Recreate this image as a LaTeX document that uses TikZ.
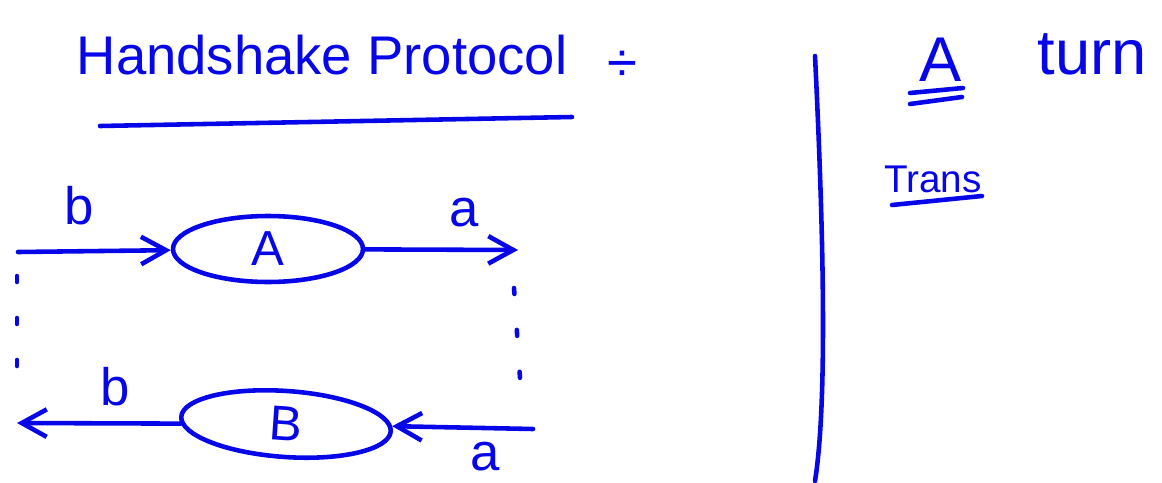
\documentclass[tikz,border=0pt]{standalone}
\usepackage{fontspec}
\setmainfont{Liberation Sans}
\usetikzlibrary{arrows.meta,shapes.geometric}

\definecolor{penblue}{RGB}{6,6,232}
\tikzset{
  ink/.style={draw=penblue, line width=2.6pt, line cap=round, line join=round},
  flow/.style={ink, -{Straight Barb[length=5mm, width=5.5mm]}},
  dots/.style={ink, dash pattern=on 0.12cm off 0.72cm},
  scrawl/.style={text=penblue, inner sep=0pt, font=\fontsize{#1}{#1}\selectfont},
  scrawl/.default=30,
  party/.style={ellipse, ink, inner sep=0pt, text=penblue,
    font=\fontsize{28}{28}\selectfont}
}

\begin{document}
\begin{tikzpicture}[x=0.02cm, y=-0.02cm]
        \useasboundingbox (0,0) rectangle (1162,483);
        % heading
        \node[scrawl=31] (head) at (322,55) {Handshake Protocol};
        \node[scrawl=31] (div) at (622,66) {÷};
        \coordinate (headL) at (100,126);
        \coordinate (headR) at (572,117);
        \draw[ink] (headL) -- (headR);

        % the two parties
        \node[party, minimum width=3.8cm, minimum height=1.32cm] (A) at (268,249) {A};
        \node[party, minimum width=4.2cm, minimum height=1.32cm, rotate=-4] (B) at (286,424) {B};

        \coordinate (bIn) at (18,252);
        \coordinate (aOut) at (518,250);
        \coordinate (aIn) at (533,429);
        \coordinate (bOut) at (17,423);
        \draw[flow] (bIn) -- node[scrawl, pos=0.4, yshift=0.92cm] (b1) {b} (A);
        \draw[flow] (A) -- node[scrawl, pos=0.645, yshift=0.74cm] (a1) {a} (aOut);
        \draw[flow] (aIn) -- node[scrawl, pos=0.34, yshift=-0.58cm] (a2) {a} (B);
        \draw[flow] (B) -- node[scrawl, pos=0.4, yshift=0.74cm] (b2) {b} (bOut);

        % dotted hand-over lines
        \coordinate (lTop) at (17,276);
        \coordinate (lBot) at (17,400);
        \coordinate (rTop) at (514,288);
        \coordinate (rBot) at (520,378);
        \draw[dots] (lTop) -- (lBot);
        \draw[dots] (rTop) -- (rBot);

        % divider
        \coordinate (divTop) at (815,56);
        \coordinate (divBot) at (815,481);
        \draw[ink] (divTop) .. controls (823,220) and (828,400) .. (divBot);

        % right side notes
        \node[scrawl=36] (who) at (941,60) {A};
        \node[scrawl=36] (turn) at (1092,54) {turn};
        \coordinate (u1L) at (910,93);
        \coordinate (u1R) at (963,88);
        \coordinate (u2L) at (910,104);
        \coordinate (u2R) at (962,97);
        \draw[ink] (u1L) -- (u1R);
        \draw[ink] (u2L) -- (u2R);
        \node[scrawl=22] (trans) at (933,179) {Trans};
        \coordinate (tL) at (892,205);
        \coordinate (tR) at (982,196);
        \draw[ink] (tL) -- (tR);
      \end{tikzpicture}
\end{document}
